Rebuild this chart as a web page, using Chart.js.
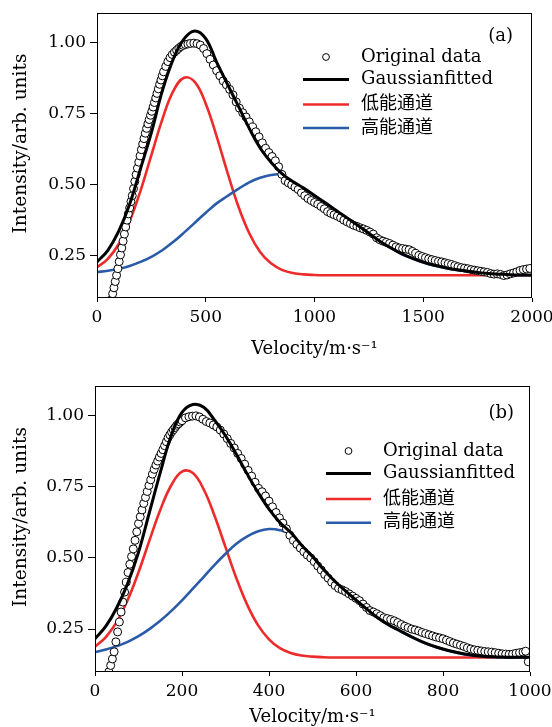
<!DOCTYPE html>
<html>
<head>
<meta charset="utf-8">
<script src="https://cdn.jsdelivr.net/npm/chart.js@4.4.0/dist/chart.umd.min.js"></script>
<style>
  body { margin: 0; background: #fff; }
  #wrap { position: relative; width: 552px; height: 727px; }
  canvas { position: absolute; left: 0; }
</style>
</head>
<body>
<div id="wrap">
  <canvas id="chartA" width="552" height="365" style="top:0"></canvas>
  <canvas id="chartB" width="552" height="362" style="top:365px"></canvas>
</div>
<script>
// Labels
const seriesLabels = ["Original data", "Gaussianfitted", "低能通道", "高能通道"];
const xTitle = "Velocity/m·s⁻¹";
const yTitle = "Intensity/arb. units";

// Panel (a): measured points
const velA = [
  66, 72, 78, 84, 90, 96, 102, 108, 114, 120,
  126, 132, 138, 144, 150, 156, 162, 168, 174, 180,
  186, 192, 198, 204, 210, 216, 222, 228, 234, 240,
  246, 252, 258, 264, 270, 276, 282, 288, 294, 300,
  306, 316, 326, 336, 346, 356, 366, 376, 386, 396,
  406, 418, 430, 445, 460, 475, 490, 505, 520, 535,
  550, 565, 580, 595, 610, 625, 640, 655, 670, 685,
  700, 715, 730, 745, 760, 775, 790, 805, 820, 835,
  850, 865, 880, 895, 910, 925, 940, 955, 970, 985,
  1000, 1015, 1030, 1045, 1060, 1075, 1090, 1105, 1120, 1135,
  1150, 1165, 1180, 1195, 1210, 1225, 1240, 1255, 1270, 1285,
  1300, 1315, 1330, 1345, 1360, 1375, 1390, 1405, 1420, 1435,
  1450, 1465, 1480, 1495, 1510, 1525, 1540, 1555, 1570, 1585,
  1600, 1615, 1630, 1645, 1660, 1675, 1690, 1705, 1720, 1735,
  1750, 1765, 1780, 1795, 1810, 1825, 1840, 1855, 1870, 1885,
  1900, 1915, 1930, 1945, 1960, 1975, 1990
];
const intA = [
  0.094, 0.115, 0.136, 0.158, 0.18, 0.203, 0.228, 0.252, 0.276, 0.30,
  0.325, 0.35, 0.374, 0.396, 0.417, 0.439, 0.46, 0.485, 0.51, 0.534,
  0.557, 0.578, 0.6, 0.622, 0.642, 0.661, 0.68, 0.697, 0.713, 0.728,
  0.743, 0.757, 0.772, 0.788, 0.804, 0.82, 0.836, 0.852, 0.867, 0.882,
  0.896, 0.915, 0.932, 0.946, 0.957, 0.965, 0.972, 0.979, 0.985, 0.989,
  0.992, 0.994, 0.996, 0.997, 0.995, 0.99, 0.978, 0.96, 0.94, 0.92,
  0.90, 0.882, 0.864, 0.85, 0.834, 0.815, 0.79, 0.768, 0.752, 0.737,
  0.72, 0.702, 0.685, 0.667, 0.646, 0.627, 0.612, 0.598, 0.583, 0.562,
  0.535, 0.513, 0.505, 0.498, 0.49, 0.482, 0.47, 0.46, 0.45, 0.443,
  0.436, 0.43, 0.422, 0.414, 0.404, 0.398, 0.393, 0.388, 0.382, 0.374,
  0.368, 0.362, 0.356, 0.352, 0.347, 0.343, 0.338, 0.332, 0.325, 0.312,
  0.305, 0.3, 0.296, 0.292, 0.286, 0.28, 0.276, 0.274, 0.272, 0.27,
  0.264, 0.257, 0.25, 0.246, 0.242, 0.238, 0.235, 0.232, 0.229, 0.227,
  0.224, 0.221, 0.218, 0.214, 0.21, 0.207, 0.205, 0.203, 0.2, 0.198,
  0.196, 0.194, 0.192, 0.19, 0.186, 0.184, 0.185, 0.183, 0.179, 0.181,
  0.185, 0.188, 0.192, 0.197, 0.2, 0.202, 0.204
];

// Panel (a): fitted curves
const fitVelA = [
  0, 50, 100, 150, 200, 250, 300, 350, 400, 450,
  500, 550, 600, 650, 700, 750, 800, 850, 900, 950,
  1000, 1050, 1100, 1150, 1200, 1250, 1300, 1350, 1400, 1450,
  1500, 1550, 1600, 1650, 1700, 1750, 1800, 1850, 1900, 1950, 2000
];
const totalA = [
  0.227, 0.268, 0.335, 0.43, 0.555, 0.682, 0.828, 0.94, 1.012, 1.04,
  1.013, 0.93, 0.852, 0.775, 0.697, 0.628, 0.578, 0.538, 0.51, 0.487,
  0.461, 0.435, 0.408, 0.382, 0.355, 0.328, 0.30, 0.277, 0.256, 0.24,
  0.226, 0.215, 0.207, 0.20, 0.195, 0.19, 0.186, 0.184, 0.182, 0.181, 0.181
];
const lowA = [
  0.208, 0.238, 0.29, 0.37, 0.477, 0.603, 0.728, 0.827, 0.875, 0.86,
  0.784, 0.669, 0.541, 0.422, 0.328, 0.262, 0.222, 0.199, 0.188, 0.183,
  0.181, 0.18, 0.18, 0.18, 0.18, 0.18, 0.18, 0.18, 0.18, 0.18,
  0.18, 0.18, 0.18, 0.18, 0.18, 0.18, 0.18, 0.18, 0.18, 0.18, 0.18
];
const highA = [
  0.191, 0.196, 0.203, 0.213, 0.227, 0.245, 0.268, 0.297, 0.33, 0.365,
  0.40, 0.433, 0.459, 0.484, 0.507, 0.523, 0.533, 0.533, 0.507, 0.485,
  0.46, 0.434, 0.407, 0.381, 0.354, 0.327, 0.299, 0.276, 0.255, 0.239,
  0.225, 0.214, 0.206, 0.199, 0.194, 0.189, 0.185, 0.183, 0.181, 0.18, 0.18
];

// Panel (b): measured points
const velB = [
  32, 36, 40, 44, 48, 52, 56, 60, 64, 68,
  72, 76, 80, 84, 88, 92, 96, 100, 104, 108,
  112, 116, 120, 124, 128, 132, 136, 140, 144, 148,
  152, 156, 160, 164, 168, 172, 176, 180, 184, 188,
  192, 196, 200, 208, 216, 224, 232, 240, 248, 256,
  264, 272, 280, 288, 296, 304, 312, 320, 328, 336,
  344, 352, 360, 368, 376, 384, 392, 400, 408, 416,
  424, 432, 440, 448, 456, 464, 472, 480, 488, 496,
  504, 512, 520, 528, 536, 544, 552, 560, 568, 576,
  584, 592, 600, 608, 616, 624, 632, 640, 648, 656,
  664, 672, 680, 688, 696, 704, 712, 720, 728, 736,
  744, 752, 760, 768, 776, 784, 792, 800, 808, 816,
  824, 832, 840, 848, 856, 864, 872, 880, 888, 896,
  904, 912, 920, 928, 936, 944, 952, 960, 968, 976,
  984, 990, 996
];
const intB = [
  0.10, 0.122, 0.145, 0.17, 0.205, 0.24, 0.275, 0.31, 0.345, 0.38,
  0.415, 0.449, 0.478, 0.505, 0.532, 0.562, 0.592, 0.621, 0.645, 0.669,
  0.692, 0.713, 0.734, 0.755, 0.775, 0.795, 0.812, 0.827, 0.841, 0.855,
  0.868, 0.881, 0.895, 0.909, 0.923, 0.933, 0.943, 0.951, 0.959, 0.967,
  0.972, 0.978, 0.983, 0.993, 0.997, 0.999, 1.0, 0.996, 0.988, 0.98,
  0.975, 0.968, 0.961, 0.95, 0.936, 0.92, 0.903, 0.887, 0.868, 0.85,
  0.83, 0.808, 0.788, 0.766, 0.745, 0.733, 0.718, 0.7, 0.68, 0.66,
  0.641, 0.623, 0.603, 0.58, 0.562, 0.548, 0.535, 0.522, 0.51, 0.5,
  0.487, 0.472, 0.458, 0.442, 0.429, 0.415, 0.403, 0.393, 0.388, 0.382,
  0.374, 0.366, 0.358, 0.35, 0.338, 0.326, 0.315, 0.31, 0.304, 0.297,
  0.29, 0.287, 0.283, 0.279, 0.273, 0.266, 0.26, 0.255, 0.25, 0.247,
  0.243, 0.238, 0.234, 0.23, 0.226, 0.222, 0.219, 0.216, 0.211, 0.206,
  0.201, 0.197, 0.193, 0.189, 0.184, 0.18, 0.177, 0.175, 0.173, 0.171,
  0.17, 0.169, 0.167, 0.165, 0.163, 0.162, 0.161, 0.162, 0.165, 0.167,
  0.169, 0.172, 0.135
];

// Panel (b): fitted curves
const fitVelB = [
  0, 25, 50, 75, 100, 125, 150, 175, 200, 225,
  250, 275, 300, 325, 350, 375, 400, 425, 450, 475,
  500, 525, 550, 575, 600, 625, 650, 675, 700, 725,
  750, 775, 800, 825, 850, 875, 900, 925, 950, 975, 1000
];
const totalB = [
  0.216, 0.26, 0.325, 0.41, 0.52, 0.66, 0.80, 0.93, 1.012, 1.04,
  1.03, 0.985, 0.93, 0.865, 0.795, 0.73, 0.672, 0.625, 0.59, 0.545,
  0.505, 0.46, 0.42, 0.385, 0.352, 0.32, 0.29, 0.265, 0.245, 0.225,
  0.207, 0.192, 0.18, 0.17, 0.162, 0.157, 0.153, 0.152, 0.151, 0.151, 0.151
];
const lowB = [
  0.188, 0.222, 0.275, 0.352, 0.45, 0.561, 0.669, 0.755, 0.804, 0.799,
  0.741, 0.648, 0.538, 0.429, 0.335, 0.263, 0.214, 0.183, 0.166, 0.157,
  0.153, 0.151, 0.15, 0.15, 0.15, 0.15, 0.15, 0.15, 0.15, 0.15,
  0.15, 0.15, 0.15, 0.15, 0.15, 0.15, 0.15, 0.15, 0.15, 0.15, 0.15
];
const highB = [
  0.169, 0.178, 0.19, 0.205, 0.225, 0.25, 0.279, 0.313, 0.351, 0.392,
  0.434, 0.476, 0.515, 0.55, 0.576, 0.594, 0.602, 0.598, 0.582, 0.54,
  0.502, 0.459, 0.419, 0.384, 0.351, 0.319, 0.289, 0.264, 0.244, 0.224,
  0.206, 0.191, 0.179, 0.169, 0.161, 0.156, 0.153, 0.151, 0.15, 0.15, 0.15
];

// Ticks
const xTicksA = [0, 500, 1000, 1500, 2000];
const xTicksB = [0, 200, 400, 600, 800, 1000];
const yTicks = [0.25, 0.50, 0.75, 1.00];

const SERIF = '"DejaVu Serif", "Noto Sans CJK SC", serif';
const RED = "#ee2b2b";
const BLUE = "#2a5ba9";

const toPoints = (xs, ys) => xs.map((x, i) => ({ x: x, y: ys[i] }));

// frame box, y title, panel tag and legend drawn inside the plot
const framePlugin = {
  id: "frame",
  afterDraw(chart, args, opts) {
    const { ctx, chartArea: a } = chart;
    ctx.save();
    ctx.strokeStyle = "#000";
    ctx.lineWidth = 1;
    const l = Math.round(a.left) + 0.5, t = Math.round(a.top) + 0.5;
    const r = Math.round(a.right) - 0.5, b = Math.round(a.bottom) - 0.5;
    ctx.strokeRect(l, t, r - l, b - t);

    ctx.fillStyle = "#000";
    ctx.textBaseline = "middle";

    // y axis title (sits a little above the axis middle in the original)
    ctx.save();
    ctx.font = "18.6px " + SERIF;
    ctx.textAlign = "center";
    ctx.translate(21, (a.top + a.bottom) / 2 - 12);
    ctx.rotate(-Math.PI / 2);
    ctx.fillText(yTitle, 0, 0);
    ctx.restore();

    ctx.font = "18px " + SERIF;
    ctx.textAlign = "right";
    ctx.fillText(opts.tag, a.right + opts.tagX, a.top + opts.tagY);

    ctx.textAlign = "left";
    chart.data.datasets.forEach((ds, i) => {
      const y = a.top + opts.rows[i];
      if (i === 0) {
        ctx.beginPath();
        ctx.arc(a.right + opts.markX + opts.markW / 2, y, 3.4, 0, Math.PI * 2);
        ctx.fillStyle = "#fff";
        ctx.fill();
        ctx.lineWidth = 1;
        ctx.strokeStyle = "#000";
        ctx.stroke();
      } else {
        ctx.beginPath();
        ctx.moveTo(a.right + opts.markX, y);
        ctx.lineTo(a.right + opts.markX + opts.markW, y);
        ctx.lineWidth = ds.borderWidth;
        ctx.strokeStyle = ds.borderColor;
        ctx.stroke();
      }
      ctx.fillStyle = "#000";
      ctx.fillText(ds.label, a.right + opts.textX, y);
    });
    ctx.restore();
  }
};

function makeChart(id, p) {
  return new Chart(document.getElementById(id), {
    type: "scatter",
    data: {
      datasets: [
        {
          label: seriesLabels[0],
          data: toPoints(p.vel, p.ints),
          pointStyle: "circle",
          pointRadius: 4,
          pointBorderWidth: 1,
          pointBorderColor: "#000",
          pointBackgroundColor: "#fff",
          clip: 0,
          order: 1
        },
        {
          label: seriesLabels[1],
          data: toPoints(p.fitVel, p.total),
          showLine: true,
          borderColor: "#000",
          borderWidth: 3,
          pointRadius: 0,
          tension: 0.4,
          clip: 0,
          order: 0
        },
        {
          label: seriesLabels[2],
          data: toPoints(p.fitVel, p.low),
          showLine: true,
          borderColor: RED,
          borderWidth: 2.6,
          pointRadius: 0,
          tension: 0.4,
          clip: 0,
          order: 3
        },
        {
          label: seriesLabels[3],
          data: toPoints(p.fitVel, p.high),
          showLine: true,
          borderColor: BLUE,
          borderWidth: 2.6,
          pointRadius: 0,
          tension: 0.4,
          clip: 0,
          order: 2
        }
      ]
    },
    options: {
      responsive: false,
      animation: false,
      events: [],
      layout: { padding: p.pad },
      plugins: {
        legend: { display: false },
        tooltip: { enabled: false },
        frame: p.frame
      },
      scales: {
        x: {
          type: "linear",
          min: p.xMin,
          max: p.xMax,
          afterBuildTicks: (s) => { s.ticks = p.xTicks.map((v) => ({ value: v })); },
          afterFit: (s) => { s.height = p.xAxisH; s.paddingLeft = 0; s.paddingRight = 0; },
          border: { display: false },
          grid: { drawOnChartArea: false, tickLength: 4, tickColor: "#000", tickWidth: 1 },
          ticks: {
            color: "#000",
            padding: 5,
            maxRotation: 0,
            autoSkip: false,
            font: { family: SERIF, size: 17 },
            callback: (v) => String(v)
          },
          title: {
            display: true,
            text: xTitle,
            color: "#000",
            font: { family: SERIF, size: 18, lineHeight: 1 },
            padding: { top: 0, bottom: p.xTitlePad }
          }
        },
        y: {
          type: "linear",
          min: p.yMin,
          max: p.yMax,
          afterBuildTicks: (s) => { s.ticks = yTicks.map((v) => ({ value: v })); },
          afterFit: (s) => { s.width = p.yAxisW; s.paddingTop = 0; s.paddingBottom = 0; },
          border: { display: false },
          grid: { drawOnChartArea: false, tickLength: 7, tickColor: "#000", tickWidth: 1 },
          ticks: {
            color: "#000",
            padding: 4,
            autoSkip: false,
            font: { family: SERIF, size: 17 },
            callback: (v) => Number(v).toFixed(2)
          },
          title: { display: false }
        }
      }
    },
    plugins: [framePlugin]
  });
}

makeChart("chartA", {
  vel: velA, ints: intA, fitVel: fitVelA, total: totalA, low: lowA, high: highA,
  xMin: 0, xMax: 2000, xTicks: xTicksA, yMin: 0.1, yMax: 1.103,
  pad: { top: 13, right: 20, left: 0, bottom: 0 },
  xAxisH: 67, yAxisW: 97, xTitlePad: 6.4,
  frame: { tag: "(a)", tagX: -19, tagY: 23, markX: -229, markW: 46, textX: -171, rows: [44, 66.5, 91.5, 115] }
});

makeChart("chartB", {
  vel: velB, ints: intB, fitVel: fitVelB, total: totalB, low: lowB, high: highB,
  xMin: 0, xMax: 1000, xTicks: xTicksB, yMin: 0.099, yMax: 1.105,
  pad: { top: 21, right: 22, left: 0, bottom: 0 },
  xAxisH: 55, yAxisW: 95, xTitlePad: 0.4,
  frame: { tag: "(b)", tagX: -16, tagY: 27, markX: -204, markW: 45, textX: -147, rows: [65, 87.5, 113, 136.7] }
});
</script>
</body>
</html>
